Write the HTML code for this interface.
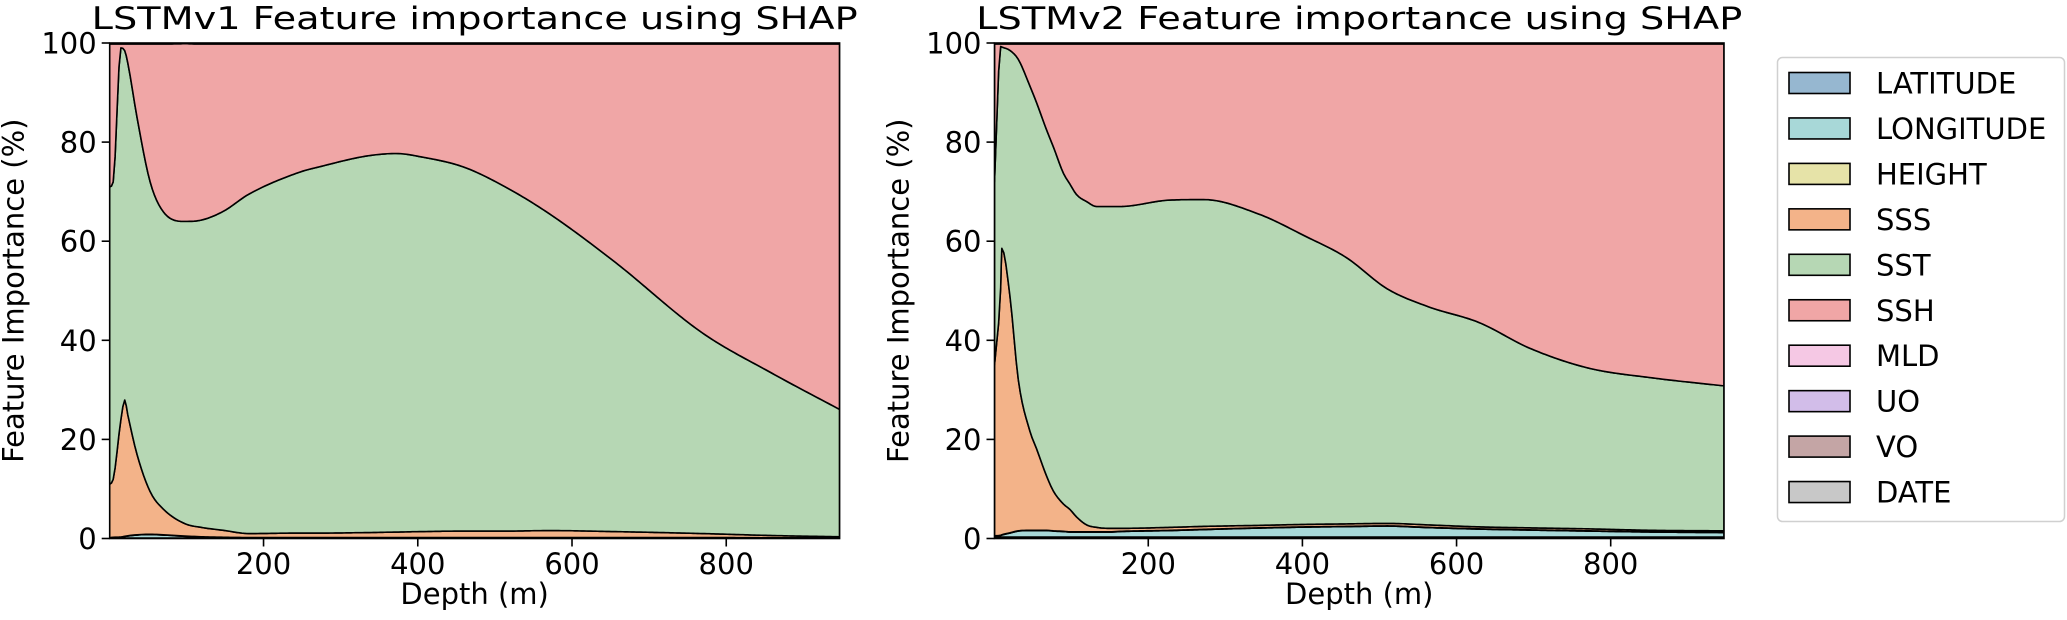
<!DOCTYPE html>
<html><head><meta charset="utf-8"><style>
html,body{margin:0;padding:0;background:#fff}
svg{display:block}
text{font-family:"DejaVu Sans","Liberation Sans",sans-serif;fill:#000}
</style></head><body>
<svg id="chart" width="2067" height="620" viewBox="0 0 2067 620" xmlns="http://www.w3.org/2000/svg"></svg>
<script>
const features = ["LATITUDE","LONGITUDE","HEIGHT","SSS","SST","SSH","MLD","UO","VO","DATE"];
const colors = ["#96b7d0","#a8d8d8","#e6e3a8","#f3b389","#b6d7b4","#f0a6a6","#f5c8e4","#d2bde9","#c4a5a5","#c8c8c8"];
const xTicks = [200,400,600,800];
const yTicks = [0,20,40,60,80,100];

// LSTMv1
const v1Depth = [0.5,5,15,20,24,36,53,70,98,119,148,181,248,272,334,372,405,459,513,571,654,769,860,947];
const v1Lat   = [0.1,0.1,0.1,0.1,0.1,0.1,0.1,0.1,0.1,0.1,0.1,0.1,0.1,0.1,0.1,0.1,0.1,0.1,0.1,0.1,0.1,0.1,0.05,0.05];
const v1Lon   = [0.0,0.1,0.15,0.3,0.4,0.6,0.7,0.6,0.35,0.2,0.1,0.05,0.05,0.05,0.05,0.05,0.05,0.05,0.05,0.05,0.05,0.05,0.05,0.05];
const v1Height= [0.05,0.05,0.05,0.05,0.05,0.05,0.05,0.05,0.05,0.05,0.05,0.05,0.05,0.05,0.05,0.05,0.05,0.05,0.05,0.05,0.05,0.05,0.05,0.05];
const v1SSS   = [10.8,11.7,23.7,27.5,24.4,16.2,8.6,5.2,2.5,1.9,1.4,0.8,0.9,0.9,1.0,1.1,1.2,1.3,1.3,1.4,1.2,0.8,0.45,0.2];
const v1SST   = [60,60,75,70.5,71,68,62.5,60,61,62,64.4,68.5,72.9,73.9,76.0,76.4,75.6,73.5,69.5,63.9,54.6,40.5,32.7,25.7];
const v1SSH   = [28.85,27.85,0.8,1.35,3.85,14.85,27.85,33.85,35.85,35.55,33.75,30.3,25.8,24.8,22.6,22.1,22.8,24.8,28.8,34.3,43.8,58.3,66.5,73.75];
const v1MLD   = [0.05,0.05,0.05,0.05,0.05,0.05,0.05,0.05,0.05,0.05,0.05,0.05,0.05,0.05,0.05,0.05,0.05,0.05,0.05,0.05,0.05,0.05,0.05,0.05];
const v1UO    = [0.05,0.05,0.05,0.05,0.05,0.05,0.05,0.05,0.05,0.05,0.05,0.05,0.05,0.05,0.05,0.05,0.05,0.05,0.05,0.05,0.05,0.05,0.05,0.05];
const v1VO    = [0.05,0.05,0.05,0.05,0.05,0.05,0.05,0.05,0.05,0.05,0.05,0.05,0.05,0.05,0.05,0.05,0.05,0.05,0.05,0.05,0.05,0.05,0.05,0.05];
const v1Date  = [0.05,0.05,0.05,0.05,0.05,0.05,0.05,0.05,0.05,0.05,0.05,0.05,0.05,0.05,0.05,0.05,0.05,0.05,0.05,0.05,0.05,0.05,0.05,0.05];

// LSTMv2
const v2Depth = [0.5,8.5,10,20.6,31.4,46.5,55,68,77,90,98.5,107,120,133,150,163,228,272,343,404,457,510,563,629,695,771,855,947];
const v2Lat   = [0.3,0.3,0.3,0.3,0.3,0.3,0.3,0.3,0.3,0.3,0.3,0.3,0.3,0.3,0.3,0.3,0.3,0.3,0.3,0.3,0.3,0.3,0.3,0.3,0.3,0.3,0.3,0.3];
const v2Lon   = [0.2,0.3,0.4,0.8,1.2,1.3,1.3,1.3,1.2,1.1,1.0,1.0,1.0,1.0,1.0,1.1,1.3,1.5,1.8,2.0,2.1,2.2,1.9,1.6,1.4,1.2,1.0,0.9];
const v2Height= [0.05,0.05,0.05,0.05,0.05,0.05,0.05,0.05,0.05,0.05,0.05,0.05,0.05,0.05,0.05,0.05,0.05,0.05,0.05,0.05,0.05,0.05,0.05,0.05,0.05,0.05,0.05,0.05];
const v2SSS   = [34.5,50,57.8,47.7,30.5,20,16.5,11,8,5.5,4.5,3,1.4,0.9,0.7,0.6,0.6,0.6,0.5,0.5,0.5,0.5,0.5,0.4,0.4,0.4,0.3,0.3];
const v2SST   = [36.95,48.65,40.65,49.65,64.65,69.65,69.85,69.85,69.45,66.75,65.65,65.05,65.25,64.75,64.95,64.95,66.05,65.95,62.85,58.15,53.75,47.35,44.05,41.25,36.25,32.45,30.75,29.25];
const v2SSH   = [27.8,0.5,0.6,1.3,3.1,8.5,11.8,17.3,20.8,26.1,28.3,30.4,31.8,32.8,32.8,32.8,31.5,31.4,34.3,38.8,43.1,49.4,53,56.2,61.4,65.4,67.4,69];
const v2MLD   = [0.05,0.05,0.05,0.05,0.05,0.05,0.05,0.05,0.05,0.05,0.05,0.05,0.05,0.05,0.05,0.05,0.05,0.05,0.05,0.05,0.05,0.05,0.05,0.05,0.05,0.05,0.05,0.05];
const v2UO    = [0.05,0.05,0.05,0.05,0.05,0.05,0.05,0.05,0.05,0.05,0.05,0.05,0.05,0.05,0.05,0.05,0.05,0.05,0.05,0.05,0.05,0.05,0.05,0.05,0.05,0.05,0.05,0.05];
const v2VO    = [0.05,0.05,0.05,0.05,0.05,0.05,0.05,0.05,0.05,0.05,0.05,0.05,0.05,0.05,0.05,0.05,0.05,0.05,0.05,0.05,0.05,0.05,0.05,0.05,0.05,0.05,0.05,0.05];
const v2Date  = [0.05,0.05,0.05,0.05,0.05,0.05,0.05,0.05,0.05,0.05,0.05,0.05,0.05,0.05,0.05,0.05,0.05,0.05,0.05,0.05,0.05,0.05,0.05,0.05,0.05,0.05,0.05,0.05];

const NS = "http://www.w3.org/2000/svg";
const svg = document.getElementById("chart");
function mk(tag, attrs, parent){ const e=document.createElementNS(NS,tag); for(const k in attrs) e.setAttribute(k,attrs[k]); (parent||svg).appendChild(e); return e; }

// monotone cubic (Fritsch-Carlson) densification of a curve
function smooth(xs, ys){
  const n = xs.length, d = [], m = [];
  for(let i=0;i<n-1;i++) d.push((ys[i+1]-ys[i])/(xs[i+1]-xs[i]));
  m[0]=d[0]; m[n-1]=d[n-2];
  for(let i=1;i<n-1;i++){ m[i] = (d[i-1]*d[i]<=0) ? 0 : (d[i-1]+d[i])/2; }
  for(let i=0;i<n-1;i++){
    if(d[i]===0){ m[i]=0; m[i+1]=0; continue; }
    const a=m[i]/d[i], b=m[i+1]/d[i], s=a*a+b*b;
    if(s>9){ const t=3/Math.sqrt(s); m[i]=t*a*d[i]; m[i+1]=t*b*d[i]; }
  }
  const out=[];
  for(let i=0;i<n-1;i++){
    const h=xs[i+1]-xs[i], steps=Math.max(2,Math.ceil(h/3));
    for(let k=0;k<steps;k++){
      const t=k/steps, t2=t*t, t3=t2*t;
      const y=(2*t3-3*t2+1)*ys[i]+(t3-2*t2+t)*h*m[i]+(-2*t3+3*t2)*ys[i+1]+(t3-t2)*h*m[i+1];
      out.push([xs[i]+t*h, y]);
    }
  }
  out.push([xs[n-1], ys[n-1]]);
  return out;
}

function drawPanel(key, left, right, top, bottom, title, depth, series){
  const xmin = depth[0], xmax = depth[depth.length-1];
  const xs = v => left + (v - xmin) / (xmax - xmin) * (right - left);
  const ys = v => bottom - v / 100 * (bottom - top);
  const g = mk("g", {});
  
  
  const cp = mk("clipPath", {id:"clip-"+key}, g);
  mk("rect", {x:left, y:top, width:right-left, height:bottom-top}, cp);
  const areas = mk("g", {"clip-path":"url(#clip-"+key+")"}, g);
  let base = depth.map(()=>0);
  series.forEach((vals, si) => {
    const topv = base.map((b,i)=>b+vals[i]);
    const up = smooth(depth, topv);
    const lo = smooth(depth, base).reverse();
    let d = "M" + up.map(p=>xs(p[0]).toFixed(2)+","+ys(p[1]).toFixed(2)).join(" L");
    d += " L" + lo.map(p=>xs(p[0]).toFixed(2)+","+ys(p[1]).toFixed(2)).join(" L") + " Z";
    const p = mk("path", {d:d, fill:colors[si], stroke:"#000", "stroke-width":"1.6", "stroke-linejoin":"round"}, areas);
    
    
    base = topv;
  });
  const frame = mk("rect", {x:left, y:top, width:right-left, height:bottom-top, fill:"none", stroke:"#000", "stroke-width":"1.6"}, g);
  
  
  xTicks.forEach(t => {
    const x = xs(t);
    mk("line", {x1:x, x2:x, y1:bottom, y2:bottom+8, stroke:"#000", "stroke-width":"1.6"}, g);
    const tx = mk("text", {x:x, y:574, "font-size":"29", "text-anchor":"middle"}, g);
    tx.textContent = t;
    
    
  });
  yTicks.forEach(t => {
    const y = ys(t);
    mk("line", {x1:left-8, x2:left, y1:y, y2:y, stroke:"#000", "stroke-width":"1.6"}, g);
    const ty = mk("text", {x:left-13, y:y+10.5, "font-size":"29", "text-anchor":"end"}, g);
    ty.textContent = t;
    
    
  });
  const cx = (left+right)/2;
  const tt = mk("text", {x:cx, y:29, "font-size":"31", "text-anchor":"middle", textLength:"766", lengthAdjust:"spacingAndGlyphs"}, g);
  tt.textContent = title;
  
  
  const xl = mk("text", {x:cx, y:604, "font-size":"29", "text-anchor":"middle"}, g);
  xl.textContent = "Depth (m)";
  
  
  const lx = left - 86, ly = (top+bottom)/2;
  const yl = mk("text", {x:lx, y:ly, "font-size":"29", "text-anchor":"middle", transform:"rotate(-90 "+lx+" "+ly+")"}, g);
  yl.textContent = "Feature Importance (%)";
  
  
}

drawPanel("lstmv1", 109.7, 839.6, 43, 538.5, "LSTMv1 Feature importance using SHAP", v1Depth,
  [v1Lat,v1Lon,v1Height,v1SSS,v1SST,v1SSH,v1MLD,v1UO,v1VO,v1Date]);
drawPanel("lstmv2", 994.5, 1724, 43, 538.5, "LSTMv2 Feature importance using SHAP", v2Depth,
  [v2Lat,v2Lon,v2Height,v2SSS,v2SST,v2SSH,v2MLD,v2UO,v2VO,v2Date]);

// legend
const lg = mk("g", {});


mk("rect", {x:1777.5, y:57.5, width:287, height:464, rx:5, fill:"#fff", stroke:"#d0d0d0", "stroke-width":"1.5"}, lg);
features.forEach((f,i) => {
  const cy = 83 + i*45.45;
  const e = mk("g", {}, lg);
  
  
  mk("rect", {x:1789, y:cy-10.5, width:61, height:21, fill:colors[i], stroke:"#000", "stroke-width":"1.6"}, e);
  const t = mk("text", {x:1876, y:cy+10.5, "font-size":"29"}, e);
  t.textContent = f;
});
</script>
</body></html>
